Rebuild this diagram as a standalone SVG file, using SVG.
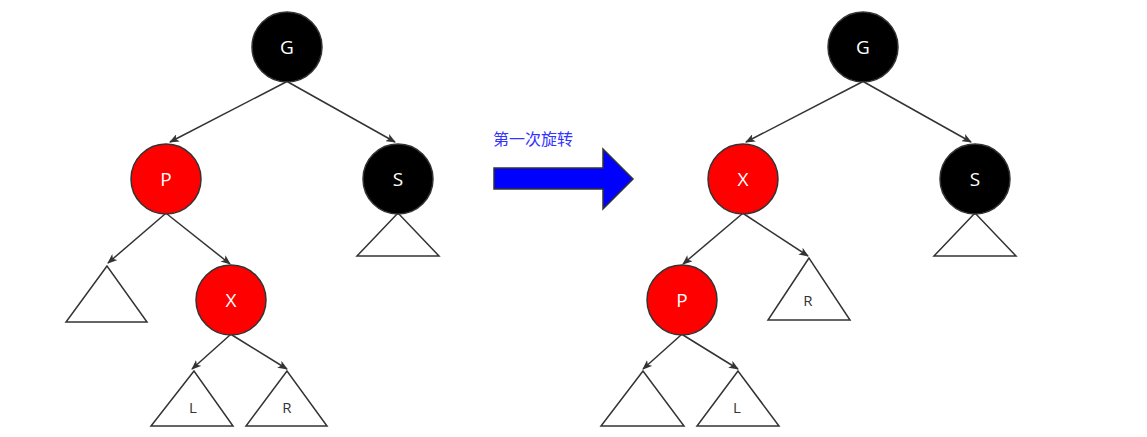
<svg xmlns="http://www.w3.org/2000/svg" width="1147" height="437" viewBox="0 0 1147 437">
<style>
.n{stroke:#333;stroke-width:1.5}
.r{fill:#f00}.b{fill:#000}
.t{fill:#fff;font-family:"Open Sans","Liberation Sans",sans-serif;font-size:19px;text-anchor:middle}
.tri{fill:#fff;stroke:#333;stroke-width:1.5}
.tl{fill:#333;font-family:"Open Sans","Liberation Sans",sans-serif;font-size:15px;text-anchor:middle}
.e{stroke:#333;stroke-width:1.5;fill:none;marker-end:url(#a)}
</style>
<defs><marker id="a" markerWidth="10" markerHeight="8" refX="9" refY="4" orient="auto" markerUnits="userSpaceOnUse"><path d="M0,0L10,4L0,8L2.5,4Z" fill="#333"/></marker></defs>
<rect width="1147" height="437" fill="#fff"/>
<g id="edges">
<path class="e" d="M286,82L170,142"/><path class="e" d="M288,82L395,142"/>
<path class="e" d="M165,214L108,263"/><path class="e" d="M167,214L230,264"/>
<path class="e" d="M230,335L192,369"/><path class="e" d="M232,335L287,369"/>
<path class="e" d="M862,82L746,142"/><path class="e" d="M864,82L971,142"/>
<path class="e" d="M742,214L683,264"/><path class="e" d="M744,214L808,256"/>
<path class="e" d="M681,335L643,369"/><path class="e" d="M683,335L738,369"/>
</g>
<g id="L_G"><circle class="n b" cx="287" cy="47" r="35"/><text class="t" x="287" y="54">G</text></g>
<g id="L_P"><circle class="n r" cx="166" cy="179" r="35"/><text class="t" x="166" y="186">P</text></g>
<g id="L_S"><polygon class="tri" points="398,213 357,256 439,256"/><circle class="n b" cx="398" cy="179" r="35"/><text class="t" x="398" y="186">S</text></g>
<g id="L_X"><circle class="n r" cx="231" cy="300" r="35"/><text class="t" x="231" y="307">X</text></g>
<g id="L_T1"><polygon class="tri" points="107,266 66,322 147,322"/></g>
<g id="L_L"><polygon class="tri" points="194,371 151,426 233,426"/><text class="tl" x="193" y="413">L</text></g>
<g id="L_R"><polygon class="tri" points="287,371 246,426 327,426"/><text class="tl" x="287" y="413">R</text></g>
<g id="arrow"><text x="493" y="145" font-family="'Noto Sans CJK SC',sans-serif" font-size="16" fill="#3333ff">第一次旋转</text>
<polygon points="494,168 603,168 603,149 633,179 603,209 603,189 494,189" fill="#00f" stroke="#333" stroke-width="1.5"/></g>
<g id="R_G"><circle class="n b" cx="863" cy="47" r="35"/><text class="t" x="863" y="54">G</text></g>
<g id="R_X"><circle class="n r" cx="743" cy="179" r="35"/><text class="t" x="743" y="186">X</text></g>
<g id="R_S"><polygon class="tri" points="975,213 934,256 1016,256"/><circle class="n b" cx="975" cy="179" r="35"/><text class="t" x="975" y="186">S</text></g>
<g id="R_P"><circle class="n r" cx="682" cy="300" r="35"/><text class="t" x="682" y="307">P</text></g>
<g id="R_R"><polygon class="tri" points="809,258 768,320 850,320"/><text class="tl" x="808" y="306">R</text></g>
<g id="R_T1"><polygon class="tri" points="643,371 601,426 684,426"/></g>
<g id="R_L"><polygon class="tri" points="738,371 697,426 779,426"/><text class="tl" x="737" y="413">L</text></g>
</svg>
